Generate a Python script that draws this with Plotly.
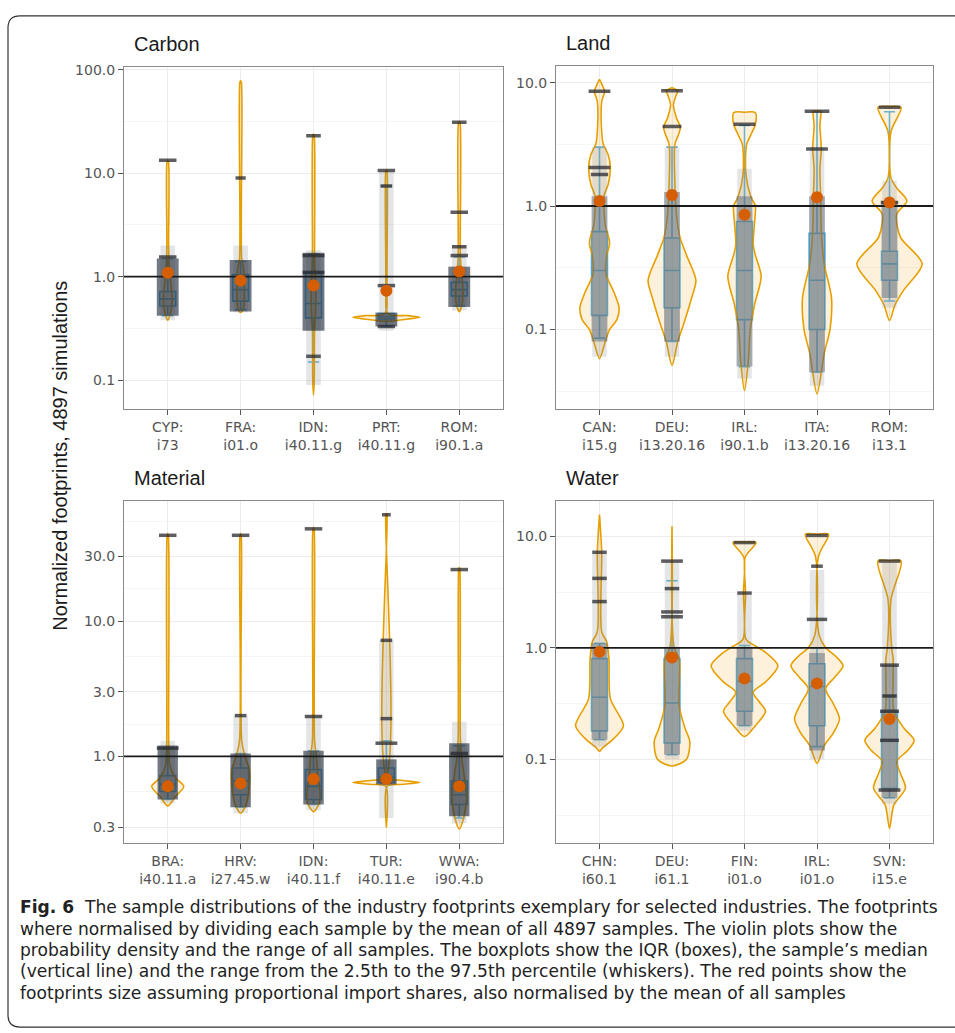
import plotly.graph_objects as go

W, H = 955, 1033

# ---------------- DATA ----------------
# Carbon
carbon_ticks = ["CYP:<br>i73", "FRA:<br>i01.o", "IDN:<br>i40.11.g", "PRT:<br>i40.11.g", "ROM:<br>i90.1.a"]
carbon_mean = [1.09, 0.92, 0.82, 0.73, 1.12]
carbon_q1 = [0.52, 0.58, 0.40, 0.39, 0.65]
carbon_med = [0.61, 0.75, 0.55, 0.41, 0.75]
carbon_q3 = [0.72, 1.05, 1.10, 0.44, 0.88]
carbon_lo = [0.42, 0.48, 0.15, 0.33, 0.52]
carbon_hi = [1.50, 1.40, 1.65, 7.5, 1.55]
carbon_violin_y = [
    [0.38, 0.45, 0.6, 0.9, 1.3, 2.0, 13.0, 13.3],
    [0.45, 0.5, 0.8, 1.2, 1.5, 76, 78],
    [0.072, 0.1, 0.3, 0.5, 0.8, 1.2, 1.7, 23, 24],
    [0.37, 0.39, 0.405, 0.42, 0.44, 1.0, 10.5, 10.7],
    [0.46, 0.55, 0.75, 1.1, 1.6, 31, 31.6],
]
carbon_violin_w = [
    [0, 0.04, 0.06, 0.04, 0.02, 0.012, 0.01, 0],
    [0, 0.04, 0.05, 0.04, 0.015, 0.01, 0],
    [0, 0.01, 0.015, 0.03, 0.03, 0.02, 0.015, 0.01, 0],
    [0, 0.3, 0.46, 0.3, 0.02, 0.008, 0.008, 0],
    [0, 0.04, 0.05, 0.03, 0.015, 0.01, 0],
]
carbon_dense_lo = [0.42, 0.46, 0.30, 0.33, 0.51]
carbon_dense_hi = [1.50, 1.45, 1.70, 0.45, 1.25]
carbon_sparse_lo = [0.38, 0.45, 0.09, 0.30, 0.47]
carbon_sparse_hi = [2.0, 2.0, 1.8, 10.5, 2.0]
carbon_cluster_cat = [1, 1, 2, 3, 3, 3, 3, 4, 4, 4, 4, 5, 5, 5, 5]
carbon_cluster_val = [13.3, 1.55, 9.0, 23, 1.6, 1.1, 0.17, 10.6, 7.5, 0.82, 0.33, 31, 4.2, 1.6, 1.95]
carbon_cluster_hw = [0.12, 0.12, 0.07, 0.1, 0.15, 0.15, 0.1, 0.12, 0.08, 0.12, 0.12, 0.1, 0.12, 0.12, 0.1]

# Land
land_ticks = ["CAN:<br>i15.g", "DEU:<br>i13.20.16", "IRL:<br>i90.1.b", "ITA:<br>i13.20.16", "ROM:<br>i13.1"]
land_mean = [1.10, 1.23, 0.85, 1.18, 1.07]
land_q1 = [0.13, 0.15, 0.12, 0.10, 0.25]
land_med = [0.30, 0.30, 0.30, 0.25, 0.34]
land_q3 = [0.62, 0.55, 0.75, 0.60, 0.43]
land_lo = [0.085, 0.08, 0.05, 0.045, 0.17]
land_hi = [3.0, 3.0, 4.5, 5.8, 5.8]
land_violin_y = [
    [0.058, 0.08, 0.1, 0.12, 0.15, 0.2, 0.28, 0.4, 0.5, 0.7, 1.0, 1.2, 1.5, 2.05, 2.6, 3.2, 4, 7, 8.5, 9.5, 10.6],
    [0.051, 0.08, 0.11, 0.18, 0.25, 0.4, 0.56, 0.87, 1.5, 3.16, 3.8, 4.35, 5.2, 6.6, 8.0, 8.6, 9.1],
    [0.032, 0.053, 0.1, 0.16, 0.27, 0.4, 0.49, 0.75, 1.0, 1.18, 1.8, 3.16, 3.8, 4.6, 5.7, 5.75],
    [0.030, 0.064, 0.1, 0.18, 0.34, 0.6, 1.2, 2.0, 2.9, 4.5, 5.85, 5.9],
    [0.118, 0.16, 0.21, 0.34, 0.56, 0.86, 1.1, 1.4, 1.7, 4.0, 6.3, 6.4],
]
land_violin_w = [
    [0, 0.08, 0.14, 0.24, 0.27, 0.2, 0.09, 0.1, 0.14, 0.08, 0.06, 0.06, 0.12, 0.15, 0.12, 0.05, 0.03, 0.03, 0.07, 0.04, 0],
    [0, 0.08, 0.16, 0.27, 0.33, 0.2, 0.11, 0.06, 0.04, 0.04, 0.09, 0.115, 0.06, 0.02, 0.06, 0.08, 0],
    [0, 0.05, 0.08, 0.14, 0.23, 0.15, 0.12, 0.14, 0.15, 0.09, 0.02, 0.03, 0.09, 0.15, 0.15, 0],
    [0, 0.1, 0.18, 0.2, 0.1, 0.06, 0.05, 0.04, 0.06, 0.04, 0.05, 0],
    [0, 0.08, 0.2, 0.45, 0.15, 0.1, 0.24, 0.1, 0.02, 0.02, 0.16, 0],
]
land_dense_lo = [0.08, 0.08, 0.05, 0.045, 0.18]
land_dense_hi = [1.2, 1.3, 1.2, 1.2, 1.1]
land_sparse_lo = [0.06, 0.06, 0.04, 0.035, 0.15]
land_sparse_hi = [3.0, 3.0, 2.0, 3.0, 1.6]
land_cluster_cat = [1, 1, 1, 2, 2, 3, 4, 4, 5, 5]
land_cluster_val = [8.5, 2.05, 1.8, 8.6, 4.4, 4.6, 5.85, 2.9, 6.3, 1.07]
land_cluster_hw = [0.15, 0.15, 0.12, 0.15, 0.13, 0.15, 0.17, 0.15, 0.15, 0.12]

# Material
material_ticks = ["BRA:<br>i40.11.a", "HRV:<br>i27.45.w", "IDN:<br>i40.11.f", "TUR:<br>i40.11.e", "WWA:<br>i90.4.b"]
material_mean = [0.60, 0.63, 0.68, 0.68, 0.60]
material_q1 = [0.55, 0.52, 0.48, 0.64, 0.44]
material_med = [0.62, 0.66, 0.60, 0.70, 0.52]
material_q3 = [0.72, 0.82, 0.80, 0.82, 0.66]
material_lo = [0.48, 0.42, 0.44, 0.62, 0.35]
material_hi = [1.15, 1.05, 1.10, 1.30, 1.20]
material_violin_y = [
    [0.43, 0.5, 0.6, 0.7, 0.85, 1.2, 43, 44],
    [0.38, 0.45, 0.6, 0.8, 1.0, 1.3, 43, 44],
    [0.39, 0.45, 0.55, 0.7, 1.0, 1.3, 48, 49],
    [0.30, 0.6, 0.62, 0.64, 0.665, 0.7, 61, 62],
    [0.29, 0.35, 0.5, 0.7, 1.0, 1.4, 24, 25],
]
material_violin_w = [
    [0, 0.1, 0.22, 0.1, 0.03, 0.015, 0.008, 0],
    [0, 0.08, 0.12, 0.12, 0.06, 0.015, 0.008, 0],
    [0, 0.08, 0.09, 0.06, 0.04, 0.015, 0.008, 0],
    [0, 0.01, 0.2, 0.46, 0.2, 0.01, 0.008, 0],
    [0, 0.06, 0.1, 0.07, 0.03, 0.015, 0.008, 0],
]
material_dense_lo = [0.48, 0.42, 0.44, 0.62, 0.36]
material_dense_hi = [1.2, 1.05, 1.1, 0.95, 1.25]
material_sparse_lo = [0.45, 0.38, 0.40, 0.35, 0.32]
material_sparse_hi = [1.3, 2.0, 2.0, 7.2, 1.8]
material_cluster_cat = [1, 1, 2, 2, 3, 3, 4, 4, 4, 4, 5, 5]
material_cluster_val = [43, 1.15, 43, 2.0, 48, 1.97, 61, 7.2, 1.9, 1.25, 24, 1.05]
material_cluster_hw = [0.12, 0.15, 0.12, 0.08, 0.12, 0.12, 0.06, 0.08, 0.08, 0.15, 0.12, 0.12]

# Water
water_ticks = ["CHN:<br>i60.1", "DEU:<br>i61.1", "FIN:<br>i01.o", "IRL:<br>i01.o", "SVN:<br>i15.e"]
water_mean = [0.92, 0.82, 0.53, 0.48, 0.23]
water_q1 = [0.18, 0.14, 0.27, 0.20, 0.055]
water_med = [0.36, 0.32, 0.50, 0.45, 0.15]
water_q3 = [0.80, 0.80, 0.80, 0.72, 0.27]
water_lo = [0.15, 0.11, 0.20, 0.13, 0.045]
water_hi = [1.1, 4.0, 1.05, 1.0, 0.37]
water_violin_y = [
    [0.118, 0.126, 0.154, 0.2, 0.35, 0.8, 1.13, 1.4, 7.2, 15.7],
    [0.087, 0.1, 0.145, 0.19, 0.3, 0.8, 1.0, 12.3],
    [0.16, 0.2, 0.27, 0.33, 0.4, 0.5, 0.69, 0.9, 1.04, 1.2, 3.1, 6.5, 8.8, 8.85],
    [0.092, 0.133, 0.17, 0.23, 0.32, 0.43, 0.55, 0.69, 0.85, 1.0, 1.3, 6.6, 10.4, 10.45],
    [0.024, 0.039, 0.055, 0.075, 0.096, 0.12, 0.148, 0.19, 0.27, 0.5, 0.8, 1.0, 2.7, 6.0, 6.05],
]
water_violin_w = [
    [0, 0.04, 0.2, 0.33, 0.15, 0.13, 0.1, 0.03, 0.03, 0],
    [0, 0.2, 0.245, 0.18, 0.1, 0.1, 0.03, 0],
    [0, 0.15, 0.29, 0.2, 0.12, 0.3, 0.46, 0.3, 0.15, 0.02, 0.015, 0.01, 0.16, 0],
    [0, 0.1, 0.22, 0.31, 0.22, 0.12, 0.25, 0.36, 0.25, 0.12, 0.03, 0.02, 0.16, 0],
    [0, 0.06, 0.22, 0.15, 0.1, 0.25, 0.34, 0.2, 0.06, 0.05, 0.05, 0.03, 0.02, 0.16, 0],
]
water_dense_lo = [0.15, 0.11, 0.20, 0.12, 0.045]
water_dense_hi = [1.1, 1.0, 1.0, 0.9, 0.7]
water_sparse_lo = [0.13, 0.10, 0.18, 0.10, 0.04]
water_sparse_hi = [7.0, 6.0, 3.0, 5.0, 5.8]
water_cluster_cat = [1, 1, 1, 2, 2, 2, 2, 3, 3, 4, 4, 4, 5, 5, 5, 5, 5, 5]
water_cluster_val = [7.2, 4.2, 2.6, 6.0, 2.1, 1.9, 3.4, 8.8, 3.1, 10.2, 5.4, 1.8, 6.0, 0.7, 0.37, 0.27, 0.148, 0.053]
water_cluster_hw = [0.1, 0.1, 0.1, 0.15, 0.15, 0.15, 0.1, 0.15, 0.1, 0.15, 0.08, 0.14, 0.15, 0.13, 0.1, 0.13, 0.13, 0.15]

panel_titles = ["Carbon", "Land", "Material", "Water"]
y_title = "Normalized footprints, 4897 simulations"

caption_lines = [
    "<b>Fig. 6</b>  The sample distributions of the industry footprints exemplary for selected industries. The footprints",
    "where normalised by dividing each sample by the mean of all 4897 samples. The violin plots show the",
    "probability density and the range of all samples. The boxplots show the IQR (boxes), the sample\u2019s median",
    "(vertical line) and the range from the 2.5th to the 97.5th percentile (whiskers). The red points show the",
    "footprints size assuming proportional import shares, also normalised by the mean of all samples",
]

# ---------------- STYLE / LAYOUT ----------------
VIOLIN_LINE = "#E69F00"
VIOLIN_FILL = "rgba(240,170,40,0.16)"
BOX_COL = "#56B4E9"
MEAN_COL = "#D55E00"
TICK_FONT = dict(family="DejaVu Sans, Verdana, sans-serif", size=14, color="#555555")

panels = [
    dict(ticks=carbon_ticks, mean=carbon_mean, q1=carbon_q1, med=carbon_med, q3=carbon_q3,
         lo=carbon_lo, hi=carbon_hi, vy=carbon_violin_y, vw=carbon_violin_w,
         dlo=carbon_dense_lo, dhi=carbon_dense_hi, slo=carbon_sparse_lo, shi=carbon_sparse_hi,
         cc=carbon_cluster_cat, cv=carbon_cluster_val, ch=carbon_cluster_hw,
         yticks=[0.1, 1, 10, 100], ytext=["0.1", "1.0", "10.0", "100.0"],
         yminor=[0.0316, 0.316, 3.16, 31.6],
         xpx=(124, 503), ypx=(62, 406), yrange=[-1.279, 2.029],
         dense_col="rgba(30,40,55,0.62)", dense_hw=0.15),
    dict(ticks=land_ticks, mean=land_mean, q1=land_q1, med=land_med, q3=land_q3,
         lo=land_lo, hi=land_hi, vy=land_violin_y, vw=land_violin_w,
         dlo=land_dense_lo, dhi=land_dense_hi, slo=land_sparse_lo, shi=land_sparse_hi,
         cc=land_cluster_cat, cv=land_cluster_val, ch=land_cluster_hw,
         yticks=[0.1, 1, 10], ytext=["0.1", "1.0", "10.0"],
         yminor=[0.0316, 0.316, 3.16],
         xpx=(556, 933), ypx=(61, 406), yrange=[-1.645, 1.137],
         dense_col="rgba(80,95,110,0.45)", dense_hw=0.11),
    dict(ticks=material_ticks, mean=material_mean, q1=material_q1, med=material_med, q3=material_q3,
         lo=material_lo, hi=material_hi, vy=material_violin_y, vw=material_violin_w,
         dlo=material_dense_lo, dhi=material_dense_hi, slo=material_sparse_lo, shi=material_sparse_hi,
         cc=material_cluster_cat, cv=material_cluster_val, ch=material_cluster_hw,
         yticks=[0.3, 1, 3, 10, 30], ytext=["0.3", "1.0", "3.0", "10.0", "30.0"],
         yminor=[0.548, 1.73, 5.48, 17.3, 54.8],
         xpx=(124, 503), ypx=(498, 842), yrange=[-0.640, 1.890],
         dense_col="rgba(30,40,55,0.62)", dense_hw=0.14),
    dict(ticks=water_ticks, mean=water_mean, q1=water_q1, med=water_med, q3=water_q3,
         lo=water_lo, hi=water_hi, vy=water_violin_y, vw=water_violin_w,
         dlo=water_dense_lo, dhi=water_dense_hi, slo=water_sparse_lo, shi=water_sparse_hi,
         cc=water_cluster_cat, cv=water_cluster_val, ch=water_cluster_hw,
         yticks=[0.1, 1, 10], ytext=["0.1", "1.0", "10.0"],
         yminor=[0.0316, 0.316, 3.16],
         xpx=(556, 933), ypx=(498, 842), yrange=[-1.75, 1.321],
         dense_col="rgba(80,95,110,0.45)", dense_hw=0.11),
]

fig = go.Figure()
layout = dict(
    width=W, height=H, margin=dict(l=0, r=0, t=0, b=0),
    paper_bgcolor="white", plot_bgcolor="white", showlegend=False,
    font=dict(family="Liberation Sans, Arial, sans-serif", color="#222"),
)

annotations = []
for k, p in enumerate(panels):
    n = k + 1
    xa = "x" if n == 1 else f"x{n}"
    ya = "y" if n == 1 else f"y{n}"
    cats = list(range(1, len(p["ticks"]) + 1))

    # violins
    for i, (vy, vw) in enumerate(zip(p["vy"], p["vw"])):
        c = cats[i]
        xs = [c + w for w in vw] + [c - w for w in reversed(vw)]
        ys = list(vy) + list(reversed(vy))
        fig.add_trace(go.Scatter(x=xs, y=ys, xaxis=xa, yaxis=ya, mode="lines",
                                 fill="toself", fillcolor=VIOLIN_FILL,
                                 line=dict(color=VIOLIN_LINE, width=1.6, shape="spline", smoothing=0.8),
                                 hoverinfo="skip"))
    # point clouds (sparse then dense)
    for lo_arr, hi_arr, col, hw in ((p["slo"], p["shi"], "rgba(130,135,140,0.22)", 0.10),
                                    (p["dlo"], p["dhi"], p["dense_col"], p["dense_hw"])):
        for i in range(len(cats)):
            c = cats[i]
            fig.add_trace(go.Scatter(x=[c - hw, c + hw, c + hw, c - hw, c - hw],
                                     y=[lo_arr[i], lo_arr[i], hi_arr[i], hi_arr[i], lo_arr[i]],
                                     xaxis=xa, yaxis=ya, mode="lines", fill="toself",
                                     fillcolor=col, line=dict(width=0), hoverinfo="skip"))
    # boxes
    fig.add_trace(go.Box(x=cats, q1=p["q1"], median=p["med"], q3=p["q3"],
                         lowerfence=p["lo"], upperfence=p["hi"], xaxis=xa, yaxis=ya,
                         width=0.22, whiskerwidth=0.7, boxpoints=False,
                         line=dict(color=BOX_COL, width=1.6),
                         fillcolor="rgba(86,180,233,0.15)", hoverinfo="skip"))
    # clusters of identical samples (appear as dark dashes)
    cx, cy = [], []
    for c, v, h in zip(p["cc"], p["cv"], p["ch"]):
        cx += [c - h, c + h, None]
        cy += [v, v, None]
    fig.add_trace(go.Scatter(x=cx, y=cy, xaxis=xa, yaxis=ya, mode="lines",
                             line=dict(color="rgba(40,40,45,0.75)", width=3.5), hoverinfo="skip"))
    # reference line at 1
    fig.add_trace(go.Scatter(x=[0.4, len(cats) + 0.6], y=[1, 1], xaxis=xa, yaxis=ya, mode="lines",
                             line=dict(color="#1a1a1a", width=1.8), hoverinfo="skip"))
    # mean points
    fig.add_trace(go.Scatter(x=cats, y=p["mean"], xaxis=xa, yaxis=ya, mode="markers",
                             marker=dict(color=MEAN_COL, size=12, line=dict(width=0)), hoverinfo="skip"))

    x0, x1 = p["xpx"]
    yt, yb = p["ypx"]
    xkey = "xaxis" if n == 1 else f"xaxis{n}"
    ykey = "yaxis" if n == 1 else f"yaxis{n}"
    layout[xkey] = dict(domain=[x0 / W, x1 / W], anchor=ya, range=[0.4, len(cats) + 0.6],
                        tickmode="array", tickvals=cats, ticktext=p["ticks"],
                        showgrid=True, gridcolor="#ECECEC", gridwidth=1, zeroline=False,
                        showline=True, mirror=True, linecolor="#8a8a8a", linewidth=1,
                        ticks="outside", ticklen=5, tickcolor="#555", tickwidth=1.2,
                        tickfont=TICK_FONT, fixedrange=True)
    layout[ykey] = dict(domain=[1 - yb / H, 1 - yt / H], anchor=xa, type="log", range=p["yrange"],
                        tickmode="array", tickvals=p["yticks"], ticktext=p["ytext"],
                        showgrid=True, gridcolor="#ECECEC", gridwidth=1, zeroline=False,
                        minor=dict(tickmode="array", tickvals=p["yminor"], showgrid=True,
                                   gridcolor="#F5F5F5", gridwidth=1, ticks=""),
                        showline=True, mirror=True, linecolor="#8a8a8a", linewidth=1,
                        ticks="outside", ticklen=5, tickcolor="#555", tickwidth=1.2,
                        tickfont=TICK_FONT, fixedrange=True)
    annotations.append(dict(text=panel_titles[k], xref="paper", yref="paper",
                            x=(x0 + 8) / W, y=1 - (yt - 23) / H, xanchor="left", yanchor="middle",
                            showarrow=False, font=dict(size=20, color="#1a1a1a")))

annotations.append(dict(text=y_title, xref="paper", yref="paper", x=60 / W, y=1 - 453 / H,
                        textangle=-90, showarrow=False, xanchor="center", yanchor="middle",
                        font=dict(size=20, color="#1a1a1a")))

cap_y = [906, 928, 950, 971, 993]
for line, yy in zip(caption_lines, cap_y):
    annotations.append(dict(text=line, xref="paper", yref="paper", x=18 / W, y=1 - yy / H,
                            xanchor="left", yanchor="middle", showarrow=False, align="left",
                            font=dict(family="DejaVu Sans, Verdana, sans-serif", size=17.1, color="#222")))

r = 12
bl, bt, bb, br = 8, 11, 1027, 970
path = (f"M {br/W},{1-bt/H} L {(bl+r)/W},{1-bt/H} Q {bl/W},{1-bt/H} {bl/W},{1-(bt+r)/H} "
        f"L {bl/W},{1-(bb-r)/H} Q {bl/W},{1-bb/H} {(bl+r)/W},{1-bb/H} L {br/W},{1-bb/H}")
layout["shapes"] = [dict(type="path", path=path, xref="paper", yref="paper",
                         line=dict(color="#333", width=1.2))]
layout["annotations"] = annotations
fig.update_layout(**layout)

fig.write_html("out.html", config=dict(displayModeBar=False),
               post_script="document.body.style.margin='0';")
